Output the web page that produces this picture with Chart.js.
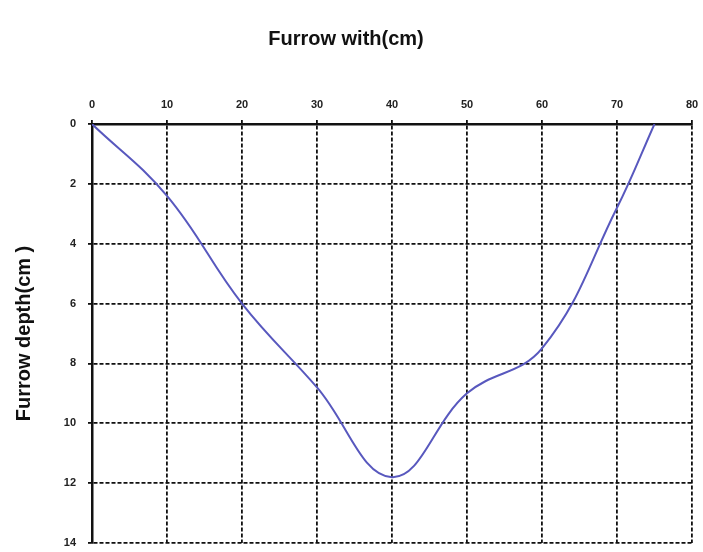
<!DOCTYPE html>
<html lang="en">
<head>
    <meta charset="UTF-8">
    <title>Furrow profile</title>
    <script src="https://cdn.jsdelivr.net/npm/chart.js"></script>
    <style>
        html, body { margin: 0; padding: 0; background: #fff; }
        #wrap { width: 703px; height: 552px; }
    </style>
</head>
<body>
    <div id="wrap">
        <canvas id="furrowChart"></canvas>
    </div>
    <script>
        // furrow profile
        const widthCm = [0, 10, 20, 30, 40, 50, 60, 70, 75];
        const depthCm = [0, 2.4, 6, 8.8, 11.8, 9, 7.5, 2.8, 0];
        const xTicks = [0, 10, 20, 30, 40, 50, 60, 70, 80];
        const yTicks = [0, 2, 4, 6, 8, 10, 12, 14];

        const tickFont = { family: 'Liberation Sans', size: 11, weight: 'bold' };
        const titleFont = { family: 'Liberation Sans', size: 20, weight: 'bold' };

        new Chart(document.getElementById('furrowChart'), {
            type: 'line',
            data: {
                datasets: [{
                    data: widthCm.map((x, i) => ({ x: x, y: depthCm[i] })),
                    borderColor: 'rgb(88, 88, 190)',
                    borderWidth: 2,
                    pointRadius: 0,
                    tension: 0.4,
                    fill: false
                }]
            },
            options: {
                responsive: true,
                maintainAspectRatio: false,
                animation: false,
                layout: { padding: { top: 0, right: 11, bottom: 9, left: 0 } },
                plugins: {
                    legend: { display: false },
                    tooltip: { enabled: false },
                    // x axis name sits centred over the whole page, like the original
                    title: {
                        display: true,
                        text: 'Furrow with(cm)',
                        color: '#111',
                        font: titleFont,
                        padding: { top: 27, bottom: 0 }
                    }
                },
                scales: {
                    x: {
                        type: 'linear',
                        position: 'top',
                        min: 0,
                        max: 80,
                        afterBuildTicks: s => { s.ticks = xTicks.map(v => ({ value: v })); },
                        afterFit: s => {
                            s.height = 124 - 51;
                            s.paddingLeft = 0;
                            s.paddingRight = 0;
                        },
                        ticks: { color: '#222', font: tickFont, padding: 8, maxRotation: 0 },
                        grid: { color: '#111', lineWidth: 1.8, tickLength: 4, tickColor: '#111' },
                        border: { display: true, color: '#111', width: 2.5, dash: [4, 2] }
                    },
                    y: {
                        type: 'linear',
                        reverse: true,
                        min: 0,
                        max: 14,
                        afterBuildTicks: s => { s.ticks = yTicks.map(v => ({ value: v })); },
                        afterFit: s => {
                            s.width = 92;
                            s.paddingTop = 0;
                            s.paddingBottom = 0;
                        },
                        ticks: { color: '#222', font: tickFont, padding: 12 },
                        grid: { color: '#111', lineWidth: 1.8, tickLength: 4, tickColor: '#111' },
                        border: { display: true, color: '#111', width: 2.5, dash: [4, 2] },
                        title: {
                            display: true,
                            text: 'Furrow depth(cm )',
                            color: '#111',
                            font: titleFont,
                            padding: { top: 12, bottom: 0 }
                        }
                    }
                }
            }
        });
    </script>
</body>
</html>
